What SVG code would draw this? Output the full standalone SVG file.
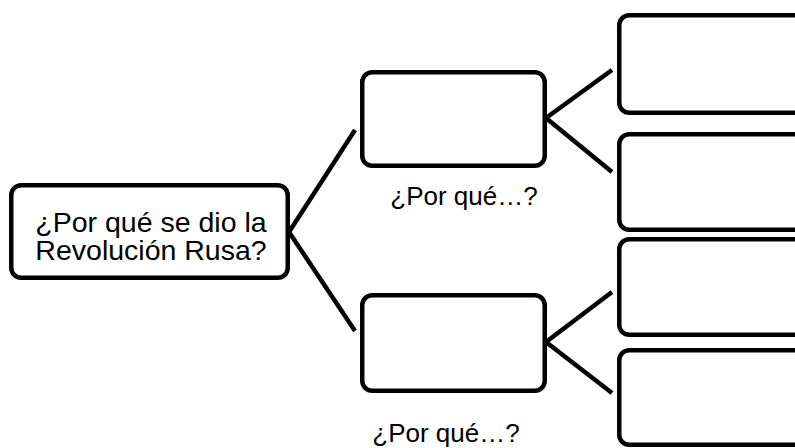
<svg xmlns="http://www.w3.org/2000/svg" width="795" height="448" viewBox="0 0 795 448">
<style>
.box{fill:#fff;stroke:#000;stroke-width:4.5}
.conn line{stroke:#000;stroke-width:4.5;stroke-linecap:butt}
.t{font-family:"Liberation Sans",Arial,sans-serif;fill:#000}
</style>
<rect width="795" height="448" fill="#fff"/>
<g id="connectors" class="conn">
<line x1="289" y1="232" x2="355" y2="130"/>
<line x1="289" y1="232" x2="355" y2="331"/>
<line x1="546" y1="118" x2="612" y2="70"/>
<line x1="546" y1="118" x2="612" y2="172"/>
<line x1="546" y1="342" x2="612" y2="292"/>
<line x1="546" y1="342" x2="612" y2="393"/>
</g>
<g id="root">
<rect class="box" x="11.25" y="185.25" width="276.5" height="92.5" rx="10"/>
<text class="t" font-size="28.5" text-anchor="middle"><tspan x="151" y="232">¿Por qué se dio la</tspan><tspan x="151" y="260">Revolución Rusa?</tspan></text>
</g>
<g id="why1">
<rect class="box" x="362.25" y="72.25" width="182.5" height="93.5" rx="10"/>
<text class="t" font-size="26" text-anchor="middle" x="464" y="205">¿Por qué…?</text>
</g>
<g id="why2">
<rect class="box" x="362.25" y="295.25" width="182.5" height="95.5" rx="10"/>
<text class="t" font-size="26" text-anchor="middle" x="446" y="442">¿Por qué…?</text>
</g>
<g id="r1"><rect class="box" x="619.25" y="15.25" width="220" height="97.5" rx="10"/></g>
<g id="r2"><rect class="box" x="619.25" y="134.25" width="220" height="95.5" rx="10"/></g>
<g id="r3"><rect class="box" x="619.25" y="239.25" width="220" height="95.5" rx="10"/></g>
<g id="r4"><rect class="box" x="619.25" y="350.25" width="220" height="94.5" rx="10"/></g>
</svg>
